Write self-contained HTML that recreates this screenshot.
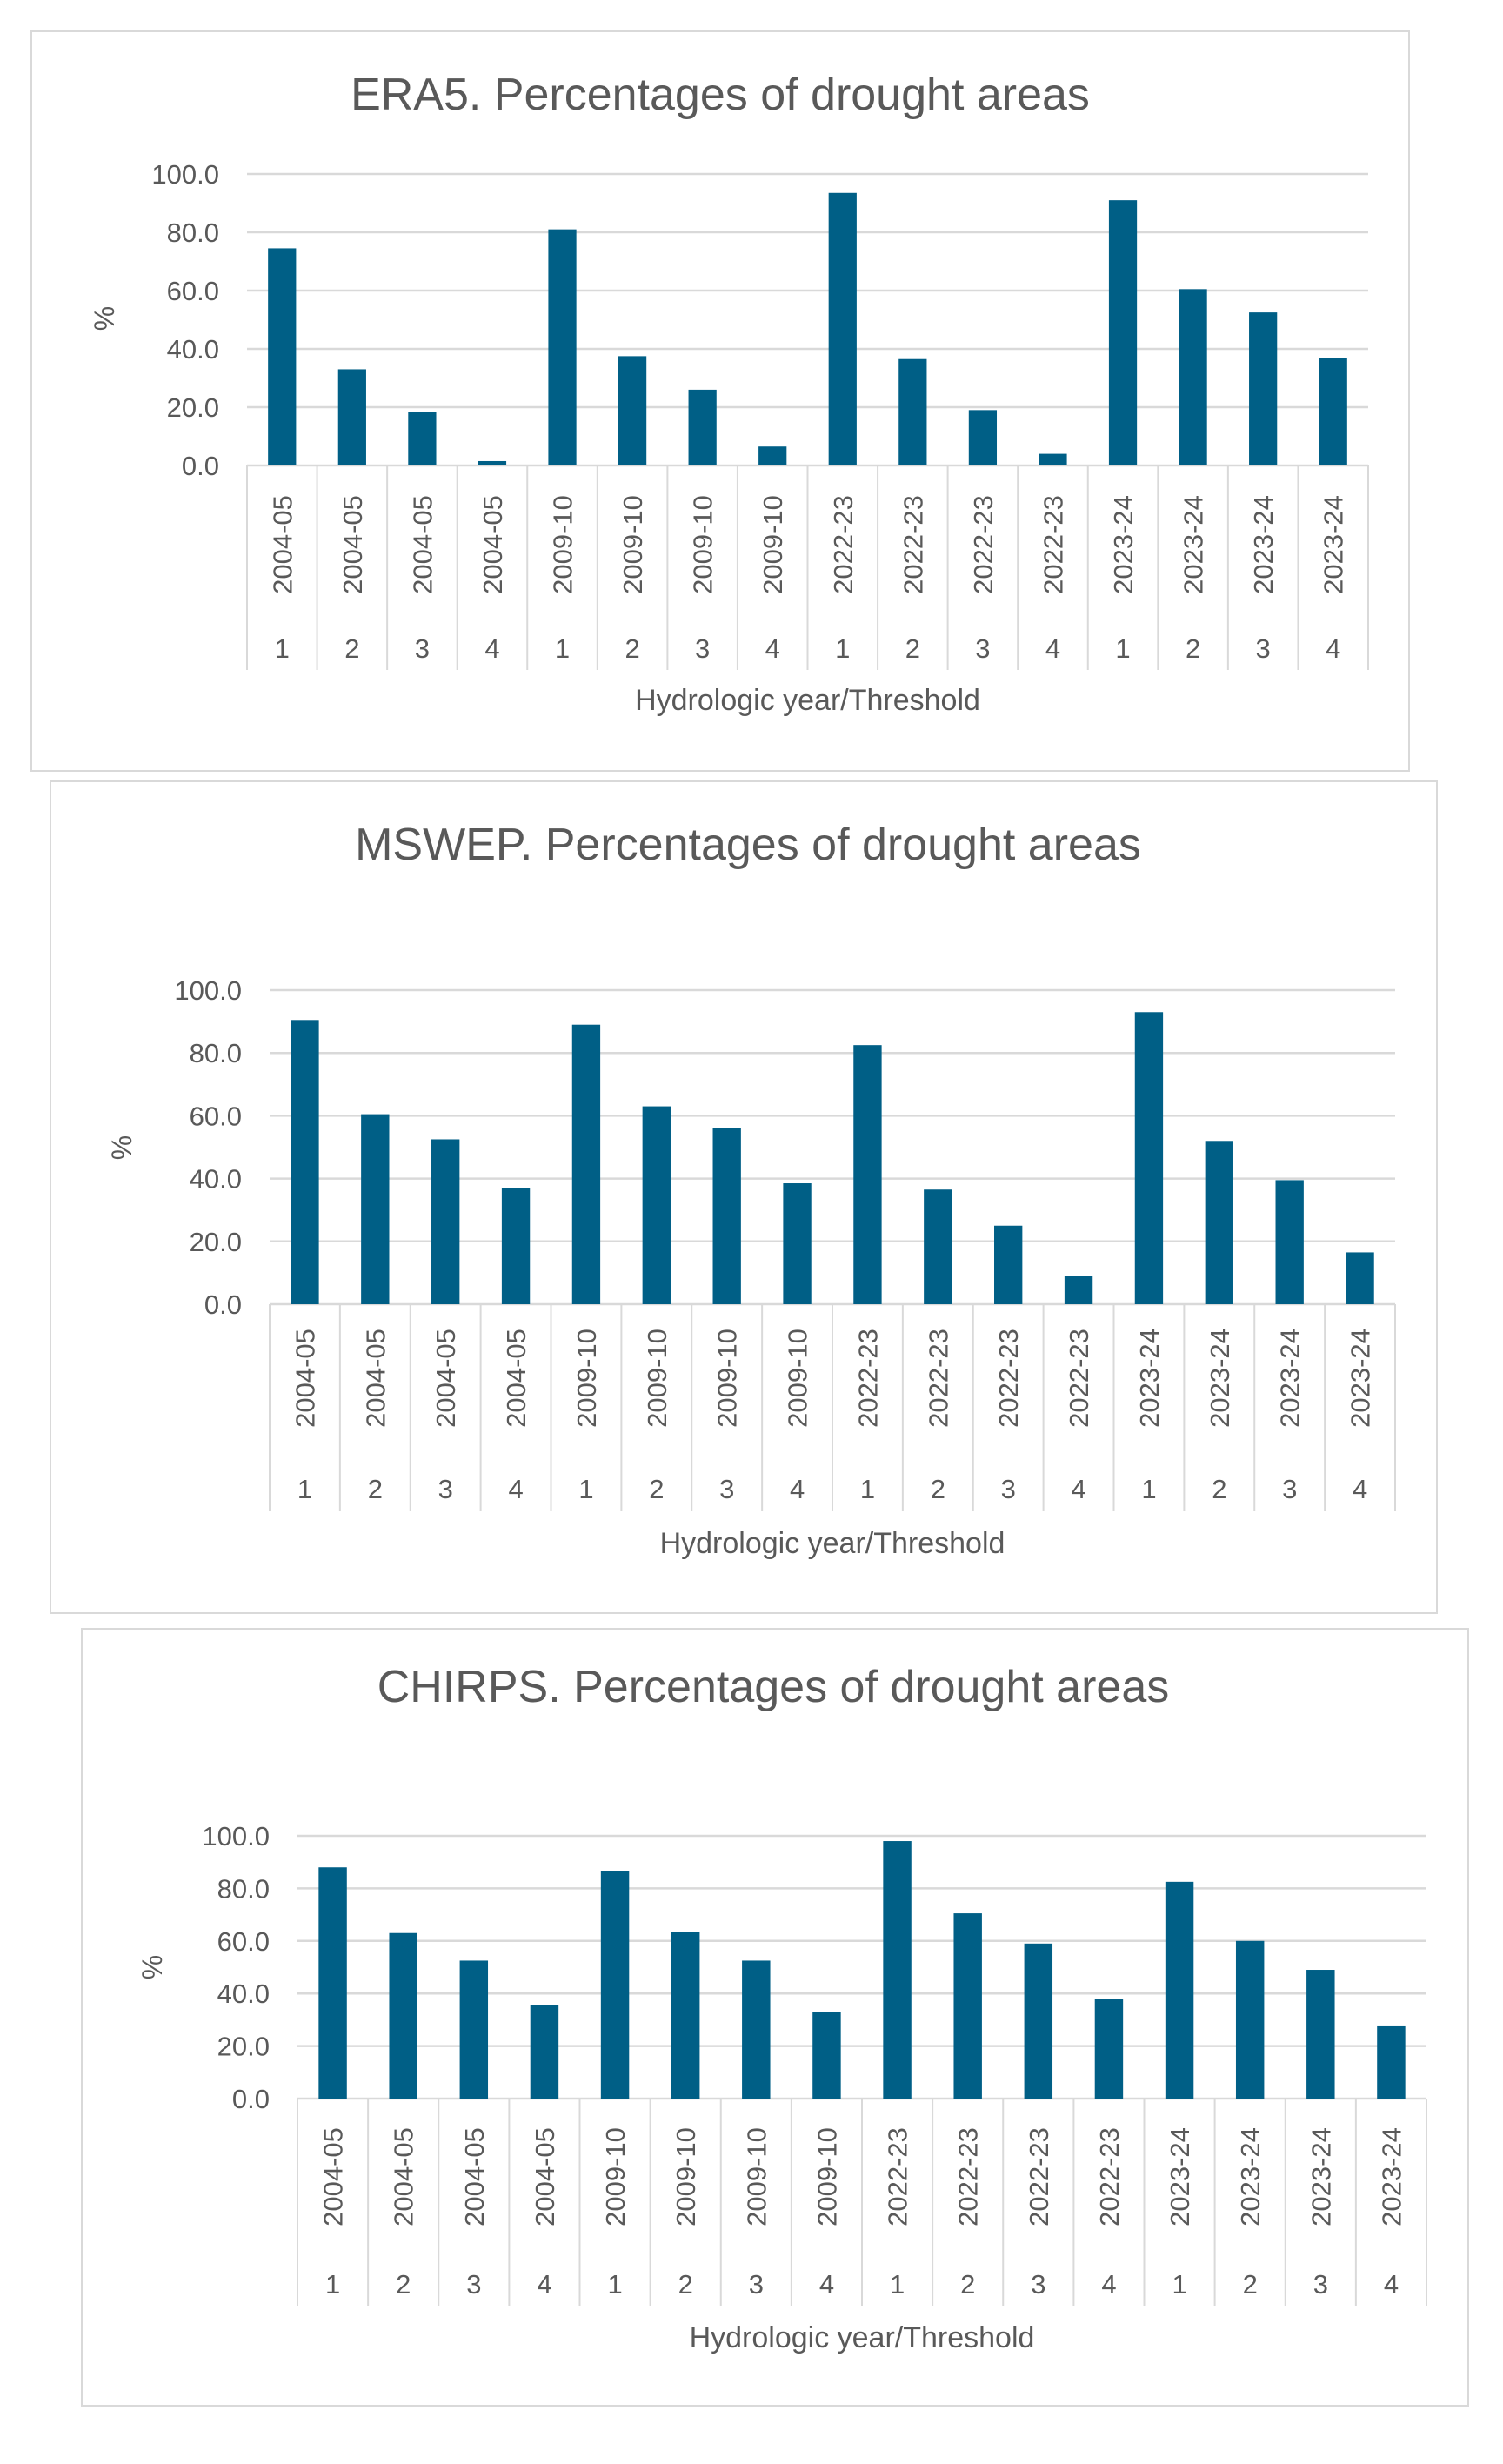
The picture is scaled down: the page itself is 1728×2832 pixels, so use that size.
<!DOCTYPE html>
<html><head><meta charset="utf-8"><style>
html,body{margin:0;padding:0;background:#fff;}
svg{display:block;font-family:"Liberation Sans",sans-serif;}
</style></head><body>
<svg id="s" width="1728" height="2832" viewBox="0 0 1728 2832"></svg>
<script>
const categoriesYear = ["2004-05","2004-05","2004-05","2004-05","2009-10","2009-10","2009-10","2009-10","2022-23","2022-23","2022-23","2022-23","2023-24","2023-24","2023-24","2023-24"];
const categoriesThreshold = ["1","2","3","4","1","2","3","4","1","2","3","4","1","2","3","4"];
const era5Values = [74.5,33,18.5,1.5,81,37.5,26,6.5,93.5,36.5,19,4,91,60.5,52.5,37];
const mswepValues = [90.5,60.5,52.5,37,89,63,56,38.5,82.5,36.5,25,9,93,52,39.5,16.5];
const chirpsValues = [88,63,52.5,35.5,86.5,63.5,52.5,33,98,70.5,59,38,82.5,60,49,27.5];
const tickLabels = ["0.0","20.0","40.0","60.0","80.0","100.0"];
const tickValues = [0,20,40,60,80,100];

const NS="http://www.w3.org/2000/svg";
const svg=document.getElementById('s');
function el(tag,attrs,parent){const e=document.createElementNS(NS,tag);for(const k in attrs)e.setAttribute(k,attrs[k]);(parent||svg).appendChild(e);return e;}

const layouts=[
 {title:"ERA5. Percentages of drought areas",values:era5Values,box:[36,36,1620,886],titleX:828,titleY:126,left:284,right:1573,y100:200,y0:535,catBottom:770,yearY:626,thrY:756,axisY:816,pctX:120,pctY:366,name:"era5"},
 {title:"MSWEP. Percentages of drought areas",values:mswepValues,box:[58,898,1652,1854],titleX:860,titleY:988,left:310,right:1604,y100:1138,y0:1499,catBottom:1737,yearY:1584,thrY:1722,axisY:1785,pctX:140,pctY:1319,name:"mswep"},
 {title:"CHIRPS. Percentages of drought areas",values:chirpsValues,box:[94,1872,1688,2765],titleX:889,titleY:1956,left:342,right:1640,y100:2110,y0:2412,catBottom:2650,yearY:2502,thrY:2636,axisY:2698,pctX:175,pctY:2261,name:"chirps"}
];

layouts.forEach(L=>{
  const g=el('g',{});
  
  
  const b=L.box;
  const r=el('rect',{x:b[0],y:b[1],width:b[2]-b[0],height:b[3]-b[1],fill:'#fff',stroke:'#d9d9d9','stroke-width':2},g);
  
  
  const t=el('text',{x:L.titleX,y:L.titleY,'text-anchor':'middle','font-size':52,fill:'#595959'},g);
  t.textContent=L.title;
  
  
  const yScale=v=>L.y0-(L.y0-L.y100)*v/100;
  const n=L.values.length;
  const bw=(L.right-L.left)/n;
  const xScale=i=>L.left+bw*i;
  tickValues.forEach((v,i)=>{
    const y=yScale(v);
    const gl=el('line',{x1:L.left,x2:L.right,y1:y,y2:y,stroke:'#d9d9d9','stroke-width':2.5},g);
    
    
    const tl=el('text',{x:L.left-32,y:y+11,'text-anchor':'end','font-size':31,fill:'#595959'},g);
    tl.textContent=tickLabels[i];
    
    
  });
  for(let i=0;i<=n;i++){
    const x=xScale(i);
    const cl=el('line',{x1:x,x2:x,y1:L.y0,y2:L.catBottom,stroke:'#d9d9d9','stroke-width':2},g);
    
    
  }
  L.values.forEach((v,i)=>{
    const cx=xScale(i)+bw/2;
    const w=bw*0.4;
    const rect=el('rect',{x:cx-w/2,y:yScale(v),width:w,height:yScale(0)-yScale(v),fill:'#005f86'},g);
    
    
    const yl=el('text',{x:0,y:0,'text-anchor':'middle','font-size':31,fill:'#595959',transform:`translate(${cx+11},${L.yearY}) rotate(-90)`},g);
    yl.textContent=categoriesYear[i];
    
    
    const tl=el('text',{x:cx,y:L.thrY,'text-anchor':'middle','font-size':31,fill:'#595959'},g);
    tl.textContent=categoriesThreshold[i];
    
    
  });
  const ax=el('text',{x:(L.left+L.right)/2,y:L.axisY,'text-anchor':'middle','font-size':34,fill:'#595959'},g);
  ax.textContent="Hydrologic year/Threshold";
  
  
  const p=el('text',{x:0,y:0,'text-anchor':'middle','font-size':32,fill:'#595959',transform:`translate(${L.pctX+11},${L.pctY}) rotate(-90)`},g);
  p.textContent="%";
  
  
});
</script>
</body></html>
